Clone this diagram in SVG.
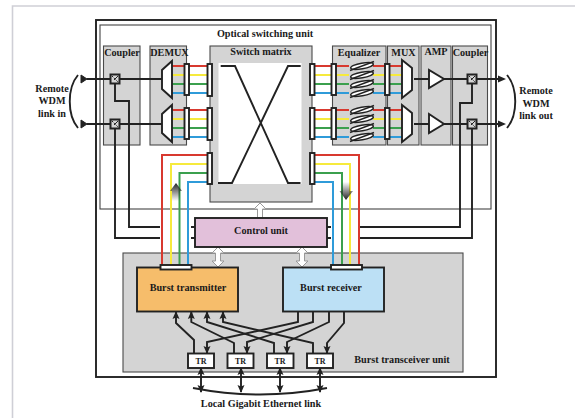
<svg xmlns="http://www.w3.org/2000/svg" width="575" height="418" viewBox="0 0 575 418">
<style>
text{font-family:"Liberation Serif","Times New Roman",serif;font-weight:bold;font-size:10.2px;fill:#1a1a1a;text-anchor:middle}
.box{fill:#d4d4d4;stroke:#4a4a4a;stroke-width:1.1}
.k{fill:none;stroke:#222;stroke-width:1.9}
.k2{fill:none;stroke:#222;stroke-width:1.4}
.port{fill:#fff;stroke:#222;stroke-width:1.9}
.r{fill:none;stroke:#d8392f;stroke-width:2}
.y{fill:none;stroke:#f6ea3c;stroke-width:2}
.g{fill:none;stroke:#3ba04e;stroke-width:2}
.b{fill:none;stroke:#2f9bd9;stroke-width:2}
.hollow{fill:#fff;stroke:#999;stroke-width:1}
.shape{fill:#fff;stroke:#222;stroke-width:1.9}
.coil{fill:#fff;stroke:#222;stroke-width:1.4}
</style>
<defs>
<marker id="ah" viewBox="0 0 8 8" refX="7" refY="4" markerWidth="8" markerHeight="8" markerUnits="userSpaceOnUse" orient="auto-start-reverse"><path d="M0 0.500L8 4L0 7.500L1.500 4Z" fill="#222"/></marker>
<linearGradient id="up" x1="0" y1="0" x2="0" y2="1"><stop offset="0" stop-color="#222"/><stop offset="1" stop-color="#222" stop-opacity="0"/></linearGradient>
<linearGradient id="dn" x1="0" y1="0" x2="0" y2="1"><stop offset="0" stop-color="#222" stop-opacity="0"/><stop offset="1" stop-color="#222"/></linearGradient>
<g id="eqcoil">
<ellipse cx="362" cy="0" rx="11.500" ry="2.800" transform="rotate(-10 362 0)" class="coil"/>
<path d="M350 4.500L374 -4.500" class="k2"/>
</g>
<g id="coupler"><rect x="-4.500" y="-4.500" width="9" height="9" fill="#d4d4d4" stroke="#222" stroke-width="2"/><path d="M-3 -3L3 3" stroke="#222" stroke-width="1" stroke-dasharray="1.500 1"/><path d="M3 -3L-1 1" stroke="#222" stroke-width="1"/></g>
</defs>

<path id="page" d="M575 6H12.500V418" fill="none" stroke="#cfcfd6" stroke-width="1.600"/>
<g id="frames">
<rect x="96" y="20" width="400" height="357" fill="#fff" stroke="#222" stroke-width="1.900"/>
<rect x="100" y="25" width="391" height="184" fill="none" stroke="#444" stroke-width="1.100"/>
</g>
<text id="title" x="265" y="37">Optical switching unit</text>

<g id="coupler-in"><rect class="box" x="103.500" y="46" width="36.500" height="99"/><text x="122" y="56">Coupler</text></g>
<g id="demux"><rect class="box" x="150" y="46" width="36.500" height="99"/><text x="169.500" y="56">DEMUX</text></g>
<g id="switch-matrix"><rect class="box" x="210" y="46" width="102" height="156"/><rect x="218.500" y="63" width="83" height="121" fill="#fff"/><text x="261" y="55">Switch matrix</text>
<path class="k" d="M220.700 66H235L288 183H300.500M218 183H232L288 66H300.700"/></g>
<g id="equalizer"><rect class="box" x="332.500" y="46" width="53.500" height="99"/><text x="359" y="56">Equalizer</text></g>
<g id="mux"><rect class="box" x="387.500" y="46" width="31.500" height="99"/><text x="403.500" y="56">MUX</text></g>
<g id="amp"><rect class="box" x="421" y="46" width="30" height="99"/><text x="436" y="55">AMP</text></g>
<g id="coupler-out"><rect class="box" x="452.500" y="46" width="35" height="99"/><text x="470.500" y="56">Coupler</text></g>
<g id="transceiver-unit"><rect class="box" x="123" y="253" width="340" height="119"/><text x="402" y="363">Burst transceiver unit</text></g>

<g id="connectors">
<g class="k">
<path d="M87 79H162M87 124H162"/>
<path d="M115 79V101H129V227H160M115 124V238H160"/>
<path d="M191 227H195M191 238H195M327 227H331M327 238H331"/>
<path d="M414 79H429M414 124H429M444 79H499M444 124H499"/>
<path d="M472 79V103H460V227H360M472 124V238H360"/>
</g>
<path d="M498 75.500L506 79L498 82.500ZM498 120.500L506 124L498 127.500Z" fill="#222"/>
<path d="M81 75L87 79L81 83ZM81 120L87 124L81 128Z" fill="#222" stroke="#222"/>
<path d="M78 75C67 88 67 115 78 128M507 75C518 88 518 115 507 128" fill="none" stroke="#222" stroke-width="1.900"/>

<g class="r"><path d="M172 66H207M172 110H207M315 66H349M373 66H402M315 110H349M373 110H402"/><path d="M207 155H162V266M315 155H359V266"/></g>
<g class="y"><path d="M172 75H207M172 119H207M315 75H349M373 75H402M315 119H349M373 119H402"/><path d="M207 164H171V266M315 164H350V266"/></g>
<g class="g"><path d="M172 84H207M172 128H207M315 84H349M373 84H402M315 128H349M373 128H402"/><path d="M207 173H179.500V266M315 173H342V266"/></g>
<g class="b"><path d="M172 93H207M172 137H207M315 93H349M373 93H402M315 137H349M373 137H402"/><path d="M207 182H188V266M315 182H333V266"/></g>

<g class="k">
<path d="M194 353V340L176 323V312" marker-end="url(#ah)"/>
<path d="M234 353V343L191.300 322V312" marker-end="url(#ah)"/>
<path d="M274 353V343L207 322V312" marker-end="url(#ah)"/>
<path d="M313 353V343L223 322V312" marker-end="url(#ah)"/>
<path d="M298 311V322L207 342V353" marker-end="url(#ah)"/>
<path d="M313 311V322L247 342V353" marker-end="url(#ah)"/>
<path d="M329 311V322L287 342V353" marker-end="url(#ah)"/>
<path d="M344 311V323L327 343V353" marker-end="url(#ah)"/>
<path d="M201 368V392" marker-start="url(#ah)" marker-end="url(#ah)"/>
<path d="M241 368V392" marker-start="url(#ah)" marker-end="url(#ah)"/>
<path d="M280 368V392" marker-start="url(#ah)" marker-end="url(#ah)"/>
<path d="M320 368V392" marker-start="url(#ah)" marker-end="url(#ah)"/>
</g>
<path d="M193 388Q260 401 327 388" fill="none" stroke="#222" stroke-width="1.900"/>

<path class="hollow" d="M260 203L266 209H262.500V218H257.500V209H254Z"/>
<path class="hollow" d="M218 247L224 253H220.500V261H224L218 267L212 261H215.500V253H212Z"/>
<path class="hollow" d="M302 247L308 253H304.500V261H308L302 267L296 261H299.500V253H296Z"/>
<path d="M176 183L182 191H180V201H172V191H170Z" fill="url(#up)"/>
<path d="M341.500 182H350V191H353L346 200L339.500 191H341.500Z" fill="url(#dn)"/>
</g>

<g id="ports">
<rect class="port" x="184.500" y="64" width="4.500" height="31"/>
<rect class="port" x="184.500" y="108" width="4.500" height="31"/>
<rect class="port" x="207.500" y="64" width="4.500" height="32"/>
<rect class="port" x="207.500" y="108" width="4.500" height="32"/>
<rect class="port" x="207.500" y="153" width="4.500" height="31"/>
<rect class="port" x="310" y="64" width="4.500" height="31"/>
<rect class="port" x="310" y="108" width="4.500" height="31"/>
<rect class="port" x="310" y="153" width="4.500" height="31"/>
<rect class="port" x="331.500" y="64" width="4.500" height="31"/>
<rect class="port" x="331.500" y="108" width="4.500" height="31"/>
<rect class="port" x="385" y="64" width="4.500" height="31"/>
<rect class="port" x="385" y="108" width="4.500" height="31"/>
</g>

<g id="equalizer-coils">
<use href="#eqcoil" y="66"/><use href="#eqcoil" y="75"/><use href="#eqcoil" y="84"/><use href="#eqcoil" y="93"/>
<use href="#eqcoil" y="110"/><use href="#eqcoil" y="119"/><use href="#eqcoil" y="128"/><use href="#eqcoil" y="137"/>
</g>

<g id="demux-shapes"><path class="shape" d="M172 61V98L162 89V70Z"/><path class="shape" d="M172 105V142L162 133V114Z"/></g>
<g id="mux-shapes"><path class="shape" d="M402 60V98L412 90V68Z"/><path class="shape" d="M402 105V142L412 134V113Z"/></g>
<g id="amp-shapes"><path class="shape" d="M429 70V88L444 79Z"/><path class="shape" d="M429 114V133L444 124Z"/></g>
<g id="couplers"><use href="#coupler" x="115" y="79"/><use href="#coupler" x="115" y="124"/><use href="#coupler" x="472" y="79"/><use href="#coupler" x="472" y="124"/></g>

<g id="control-unit"><rect x="195" y="218" width="132" height="29" fill="#e2c0da" stroke="#222" stroke-width="1.900"/><text x="261" y="234">Control unit</text></g>
<g id="burst-transmitter"><rect x="137" y="267.500" width="101" height="44" fill="#f6bd6b" stroke="#222" stroke-width="1.900"/><rect class="port" x="160.500" y="265" width="31" height="4.500"/><text x="188" y="291">Burst transmitter</text></g>
<g id="burst-receiver"><rect x="283" y="267.500" width="101" height="44" fill="#bce0f5" stroke="#222" stroke-width="1.900"/><rect class="port" x="331" y="265" width="31" height="4.500"/><text x="331" y="291">Burst receiver</text></g>

<g id="tr1"><rect x="188" y="353.500" width="26" height="14.500" class="port"/><text x="201" y="364" style="font-size:8px">TR</text></g>
<g id="tr2"><rect x="227.500" y="353.500" width="26" height="14.500" class="port"/><text x="240.500" y="364" style="font-size:8px">TR</text></g>
<g id="tr3"><rect x="267" y="353.500" width="26.500" height="14.500" class="port"/><text x="280" y="364" style="font-size:8px">TR</text></g>
<g id="tr4"><rect x="307" y="353.500" width="26" height="14.500" class="port"/><text x="320" y="364" style="font-size:8px">TR</text></g>

<g id="labels">
<text x="52" y="92">Remote</text><text x="52" y="104">WDM</text><text x="52" y="117">link in</text>
<text x="536" y="94">Remote</text><text x="536" y="106.500">WDM</text><text x="536" y="119">link out</text>
<text x="261" y="407">Local Gigabit Ethernet link</text>
</g>
</svg>
